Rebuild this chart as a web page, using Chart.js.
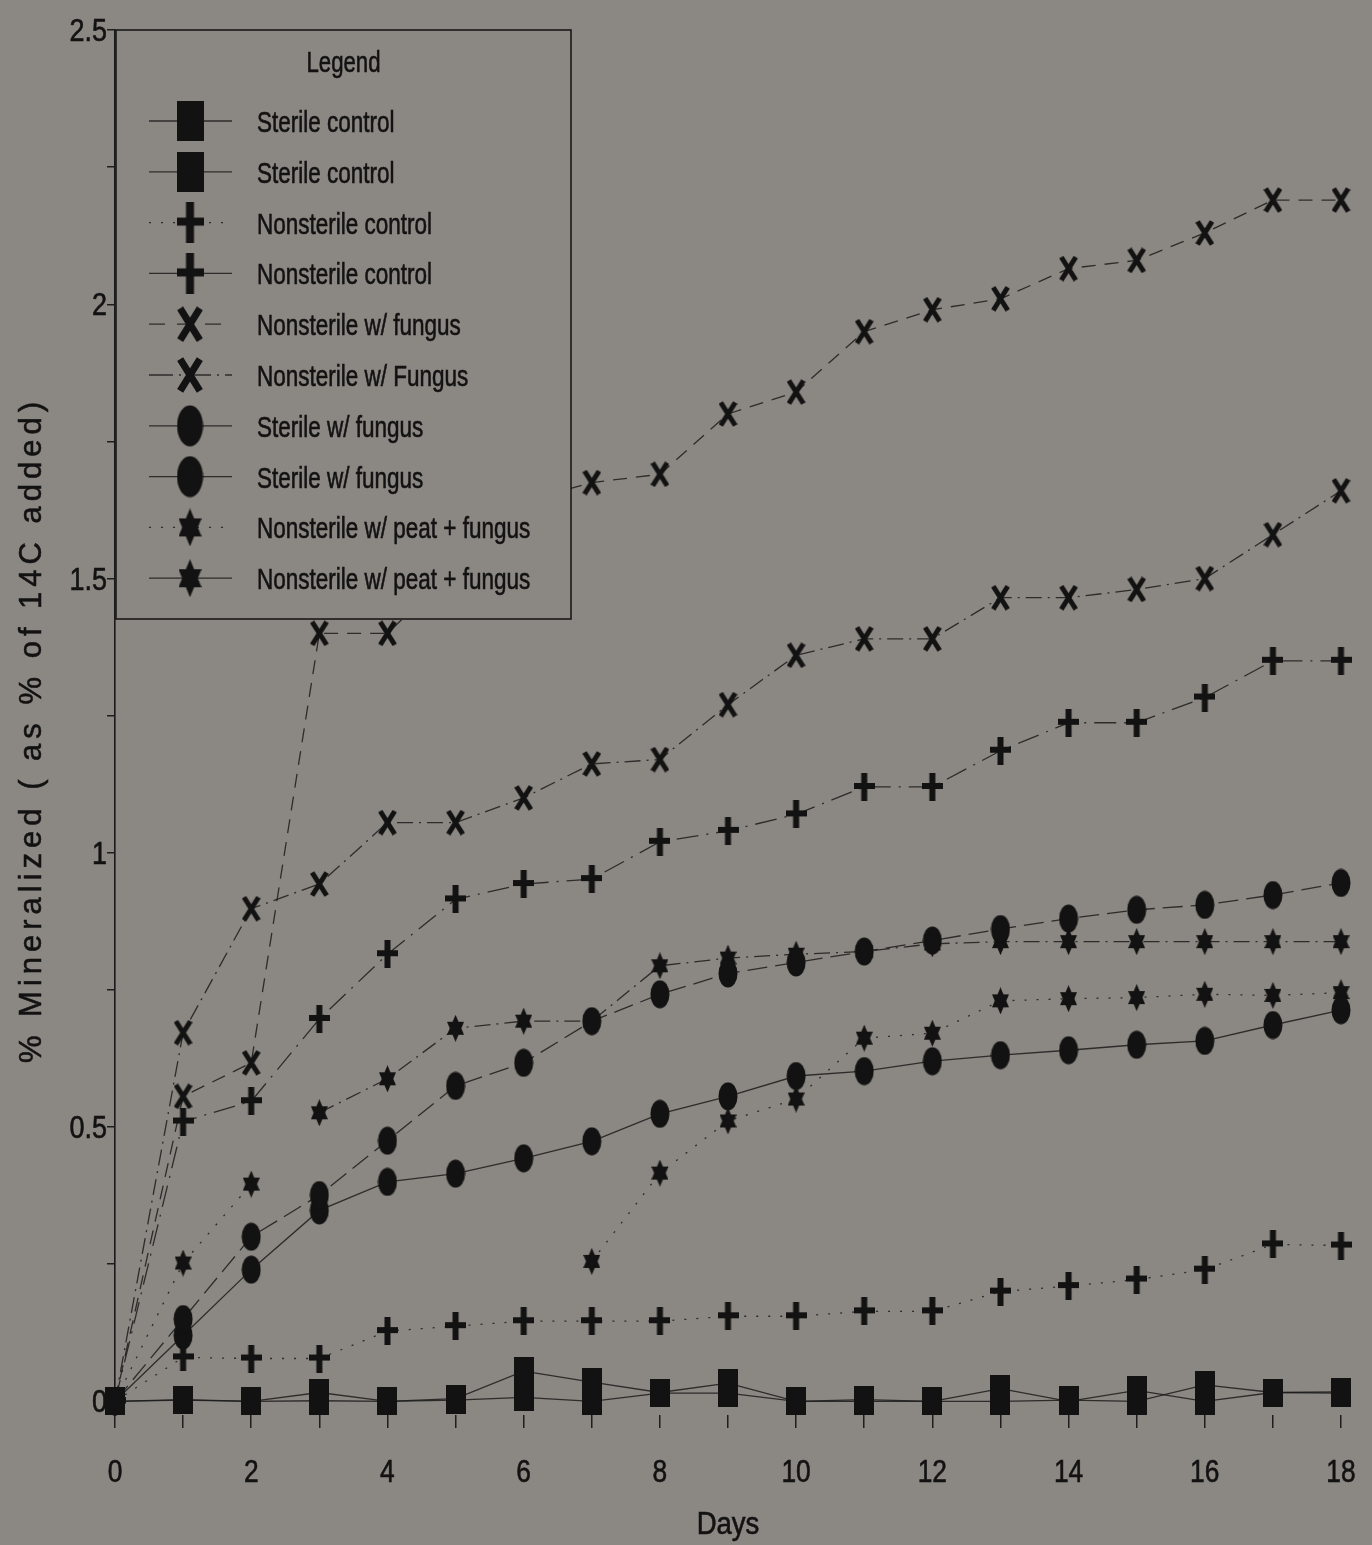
<!DOCTYPE html>
<html>
<head>
<meta charset="utf-8">
<title>% Mineralized vs Days</title>
<script src="https://cdn.jsdelivr.net/npm/chart.js@4.4.1/dist/chart.umd.min.js"></script>
<style>
  html, body { margin: 0; padding: 0; background: #8b8782; }
  #wrap { width: 1372px; height: 1545px; }
</style>
</head>
<body>
<div id="wrap"><canvas id="chart" width="1372" height="1545"></canvas></div>
<script>
// sampling days
const days = [0, 1, 2, 3, 4, 5, 6, 7, 8, 9, 10, 11, 12, 13, 14, 15, 16, 17, 18];

// % of added 14C mineralized, one value per day (null = not measured)
const sterileControlA    = [0, 0.002, 0, 0.016, 0, 0.005, 0.055, 0.035, 0.016, 0.033, 0, 0.003, 0, 0.023, 0, 0.02, 0, 0.016, 0.017];
const sterileControlB    = [0, 0.003, 0, 0.001, 0, 0.002, 0.007, 0, 0.015, 0.015, 0, 0, 0, 0, 0.002, 0, 0.03, 0.016, 0.015];
const nonsterileControlA = [0, 0.08, 0.078, 0.078, 0.128, 0.137, 0.146, 0.146, 0.146, 0.155, 0.155, 0.164, 0.164, 0.20, 0.21, 0.222, 0.24, 0.286, 0.284];
const nonsterileControlB = [0, 0.51, 0.547, 0.697, 0.815, 0.915, 0.943, 0.952, 1.02, 1.04, 1.07, 1.12, 1.12, 1.186, 1.237, 1.237, 1.283, 1.35, 1.35];
const nonsterileFungusA  = [0, 0.556, 0.617, 1.40, 1.40, 1.52, 1.64, 1.675, 1.69, 1.80, 1.84, 1.95, 1.99, 2.01, 2.065, 2.08, 2.13, 2.19, 2.19];
const nonsterileFungusB  = [0, 0.672, 0.898, 0.943, 1.055, 1.055, 1.10, 1.162, 1.17, 1.27, 1.36, 1.39, 1.39, 1.465, 1.465, 1.48, 1.50, 1.58, 1.66];
const sterileFungusA     = [0, 0.15, 0.30, 0.376, 0.475, 0.575, 0.617, 0.693, 0.742, 0.78, 0.80, 0.82, 0.84, 0.861, 0.88, 0.896, 0.905, 0.923, 0.945];
const sterileFungusB     = [0, 0.12, 0.24, 0.348, 0.40, 0.415, 0.443, 0.474, 0.524, 0.556, 0.593, 0.602, 0.62, 0.631, 0.64, 0.65, 0.657, 0.686, 0.713];
const peatFungusA        = [0, 0.252, 0.396, null, null, null, null, 0.255, 0.416, 0.511, 0.551, 0.662, 0.671, 0.73, 0.734, 0.736, 0.742, 0.74, 0.745];
const peatFungusB        = [null, null, null, 0.526, 0.588, 0.68, 0.693, 0.693, 0.794, 0.808, 0.815, 0.82, 0.834, 0.838, 0.838, 0.838, 0.838, 0.838, 0.838];

const seriesLabels = [
  'Sterile control', 'Sterile control',
  'Nonsterile control', 'Nonsterile control',
  'Nonsterile w/ fungus', 'Nonsterile w/ Fungus',
  'Sterile w/ fungus', 'Sterile w/ fungus',
  'Nonsterile w/ peat + fungus', 'Nonsterile w/ peat + fungus'
];

// axis ticks
const xTickValues = [0, 1, 2, 3, 4, 5, 6, 7, 8, 9, 10, 11, 12, 13, 14, 15, 16, 17, 18];
const xLabelValues = [0, 2, 4, 6, 8, 10, 12, 14, 16, 18];
const yTickValues = [0, 0.25, 0.5, 0.75, 1, 1.25, 1.5, 1.75, 2, 2.25, 2.5];
const yLabelValues = [0, 0.5, 1, 1.5, 2, 2.5];

const bg = '#8b8782';
const ink = '#121212';
const lineInk = 'rgba(28,28,28,0.85)';
const sans = '"Liberation Sans", Arial, sans-serif';

// Arial squeezed horizontally for a narrow face; y is the baseline
function narrowText(ctx, text, x, y, size, squeeze, align) {
  ctx.save();
  ctx.font = `${size}px ${sans}`;
  ctx.textAlign = 'left';
  ctx.textBaseline = 'alphabetic';
  ctx.fillStyle = ink;
  ctx.strokeStyle = ink;
  ctx.lineWidth = 0.6;
  const w = ctx.measureText(text).width * squeeze;
  const x0 = align === 'center' ? x - w / 2 : align === 'right' ? x - w : x;
  ctx.translate(x0, y);
  ctx.scale(squeeze, 1);
  ctx.fillText(text, 0, 0);
  ctx.strokeText(text, 0, 0);
  ctx.restore();
}

// filled marker glyphs, taller than wide
function marker(shape, w, h, t) {
  const c = document.createElement('canvas');
  c.width = w; c.height = h;
  const g = c.getContext('2d');
  g.fillStyle = ink; g.strokeStyle = ink;
  if (shape === 'square') {
    g.fillRect(0, 0, w, h);
  } else if (shape === 'circle') {
    g.beginPath(); g.ellipse(w / 2, h / 2, w / 2 - 0.5, h / 2 - 0.5, 0, 0, Math.PI * 2); g.fill();
  } else if (shape === 'plus') {
    g.fillRect((w - t) / 2, 0, t, h);
    g.fillRect(0, (h - t) / 2 - 1, w, t);
  } else if (shape === 'cross') {
    g.lineWidth = t;
    g.beginPath();
    g.moveTo(t * 0.45, t * 0.3); g.lineTo(w - t * 0.45, h - t * 0.3);
    g.moveTo(w - t * 0.45, t * 0.3); g.lineTo(t * 0.45, h - t * 0.3);
    g.stroke();
  } else if (shape === 'star') {
    g.beginPath();
    g.moveTo(w / 2, 0); g.lineTo(w, h * 0.74); g.lineTo(0, h * 0.74); g.closePath();
    g.fill();
    g.beginPath();
    g.moveTo(w / 2, h); g.lineTo(w, h * 0.26); g.lineTo(0, h * 0.26); g.closePath();
    g.fill();
  }
  return c;
}

const plotMarkers = {
  square: marker('square', 20, 28),
  plus: marker('plus', 21, 28, 6),
  cross: marker('cross', 19, 26, 5),
  circle: marker('circle', 20, 29),
  star: marker('star', 17, 27)
};
const legendMarkers = {
  square: marker('square', 27, 40),
  plus: marker('plus', 27, 41, 8),
  cross: marker('cross', 26, 36, 7),
  circle: marker('circle', 27, 42),
  star: marker('star', 23, 38)
};

const solid = [];
const dotted = [2, 10];
const dashed = [14, 9];
const dashDot = [16, 6, 2, 6];
const longDash = [20, 8];

function series(label, values, shape, dash, legendDash) {
  return {
    label: label,
    data: days.map((d, i) => ({ x: d, y: values[i] })),
    borderColor: lineInk,
    borderWidth: 1.3,
    borderDash: dash,
    legendDash: legendDash,
    shape: shape,
    pointStyle: plotMarkers[shape],
    pointRadius: 10,
    pointHoverRadius: 10,
    fill: false,
    tension: 0,
    spanGaps: false,
    clip: false
  };
}

const datasets = [
  series(seriesLabels[0], sterileControlA, 'square', solid, solid),
  series(seriesLabels[1], sterileControlB, 'square', solid, solid),
  series(seriesLabels[2], nonsterileControlA, 'plus', dotted, dotted),
  series(seriesLabels[3], nonsterileControlB, 'plus', [22, 8, 2, 8], solid),
  series(seriesLabels[4], nonsterileFungusA, 'cross', dashed, [16, 12]),
  series(seriesLabels[5], nonsterileFungusB, 'cross', dashDot, [24, 6, 2, 6]),
  series(seriesLabels[6], sterileFungusA, 'circle', longDash, solid),
  series(seriesLabels[7], sterileFungusB, 'circle', solid, solid),
  series(seriesLabels[8], peatFungusA, 'star', dotted, dotted),
  series(seriesLabels[9], peatFungusB, 'star', dashDot, solid)
];

const backdrop = {
  id: 'backdrop',
  beforeDraw(chart) {
    const ctx = chart.ctx;
    ctx.save();
    ctx.fillStyle = bg;
    ctx.fillRect(0, 0, chart.width, chart.height);
    ctx.restore();
  }
};

// tick labels and axis titles
const axisText = {
  id: 'axisText',
  afterDraw(chart) {
    const ctx = chart.ctx;
    const a = chart.chartArea;
    const xs = chart.scales.x, ys = chart.scales.y;
    xLabelValues.forEach(v => narrowText(ctx, String(v), xs.getPixelForValue(v), a.bottom + 67, 31, 0.85, 'center'));
    yLabelValues.forEach(v => narrowText(ctx, String(v), a.left - 8, ys.getPixelForValue(v) + 11, 31, 0.87, 'right'));
    narrowText(ctx, 'Days', (a.left + a.right) / 2, a.bottom + 119, 32, 0.86, 'center');

    const text = '% Mineralized ( as % of 14C added)';
    ctx.save();
    ctx.font = `31px ${sans}`;
    ctx.letterSpacing = '5px';
    ctx.fillStyle = ink;
    ctx.strokeStyle = ink;
    ctx.lineWidth = 0.5;
    ctx.textAlign = 'left';
    ctx.textBaseline = 'middle';
    const w = ctx.measureText(text).width - 5;
    ctx.translate(32, (a.top + a.bottom) / 2 + 10);
    ctx.rotate(-Math.PI / 2);
    ctx.fillText(text, -w / 2, 0);
    ctx.strokeText(text, -w / 2, 0);
    ctx.restore();
  }
};

// boxed legend in the upper-left corner of the plot
const legendBox = {
  id: 'legendBox',
  afterDatasetsDraw(chart) {
    const ctx = chart.ctx;
    const a = chart.chartArea;
    const left = a.left + 1, top = a.top, w = 455, h = 589;
    ctx.save();
    ctx.fillStyle = bg;
    ctx.fillRect(left, top, w, h);
    ctx.strokeStyle = '#1a1a1a';
    ctx.lineWidth = 1.6;
    ctx.strokeRect(left, top, w, h);
    narrowText(ctx, 'Legend', left + w / 2, top + 42, 30, 0.74, 'center');
    chart.data.datasets.forEach((ds, i) => {
      const y = top + 91 + i * 50.8;
      ctx.strokeStyle = lineInk;
      ctx.lineWidth = 1.3;
      ctx.setLineDash(ds.legendDash);
      ctx.beginPath();
      ctx.moveTo(left + 33, y);
      ctx.lineTo(left + 116, y);
      ctx.stroke();
      ctx.setLineDash([]);
      const m = legendMarkers[ds.shape];
      ctx.drawImage(m, left + 74 - m.width / 2, y - m.height / 2);
      narrowText(ctx, ds.label, left + 141, y + 11, 30, 0.75, 'left');
    });
    ctx.restore();
  }
};

new Chart(document.getElementById('chart').getContext('2d'), {
  type: 'line',
  data: { datasets: datasets },
  options: {
    responsive: false,
    animation: false,
    events: [],
    layout: { padding: { left: 0, top: 30, right: 31, bottom: 0 } },
    plugins: {
      legend: { display: false },
      tooltip: { enabled: false },
      title: { display: false }
    },
    scales: {
      x: {
        type: 'linear',
        min: 0,
        max: 18,
        afterBuildTicks: (s) => { s.ticks = xTickValues.map(v => ({ value: v })); },
        afterFit: (s) => { s.height = 130; },
        border: { display: false },
        grid: { drawOnChartArea: false, drawTicks: true, tickLength: 13, color: '#1e1e1e', lineWidth: 1.5 },
        ticks: { autoSkip: false, maxRotation: 0, callback: () => '' }
      },
      y: {
        type: 'linear',
        min: -0.025,
        max: 2.5,
        afterBuildTicks: (s) => { s.ticks = yTickValues.map(v => ({ value: v })); },
        afterFit: (s) => { s.width = 115; },
        border: { display: true, color: '#1a1a1a', width: 1.6 },
        grid: { drawOnChartArea: false, drawTicks: true, tickLength: 8, color: '#1e1e1e', lineWidth: 1.5 },
        ticks: { autoSkip: false, callback: () => '' }
      }
    }
  },
  plugins: [backdrop, legendBox, axisText]
});
</script>
</body>
</html>
